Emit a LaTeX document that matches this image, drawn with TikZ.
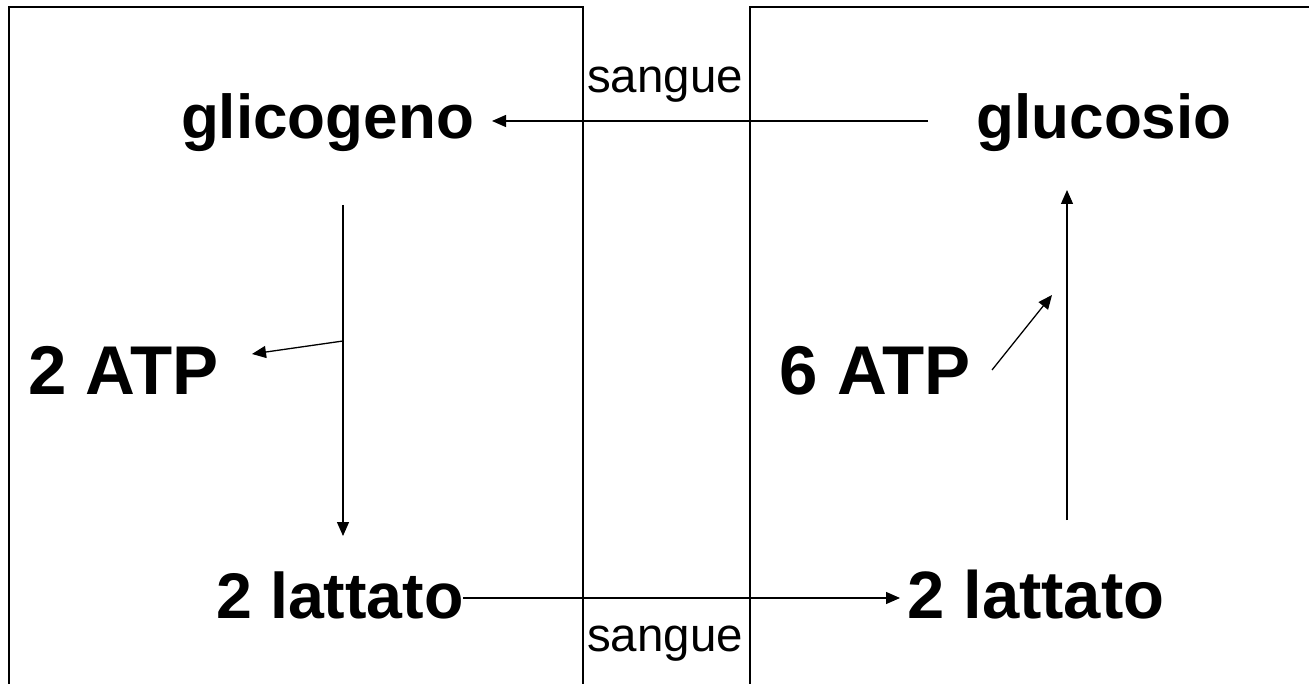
\documentclass[tikz,border=0pt]{standalone}
\usepackage{fontspec}
\setmainfont{Liberation Sans}
\usetikzlibrary{arrows.meta}
\begin{document}
\begin{tikzpicture}[x=1pt,y=-1pt,
  big/.style={font=\bfseries\fontsize{62}{62}\selectfont, inner sep=0pt, anchor=base},
  atp/.style={font=\bfseries\fontsize{69}{69}\selectfont, inner sep=0pt, anchor=base},
  small/.style={font=\fontsize{47.5}{47.5}\selectfont, inner sep=0pt, anchor=base},
  wall/.style={line width=1.8pt},
  flow/.style={line width=1.3pt, -{Triangle[length=14pt,width=12pt]}}]
\useasboundingbox (0,0) rectangle (1309,684);
% compartments
\draw[wall] (9,684) -- (9,7) -- (583,7) -- (583,684);
\draw[wall] (750,684) -- (750,7) -- (1309,7);
% labels
\node[big] (glicogeno) at (327.5,139) {glicogeno};
\node[big] (glucosio) at (1104,139) {glucosio};
\node[atp] (atpL) at (123.5,395) {2 ATP};
\node[atp] (atpR) at (875,395) {6 ATP};
\node[big, font=\bfseries\fontsize{64.5}{64.5}\selectfont] (latL) at (340,618) {2 lattato};
\node[big, font=\bfseries\fontsize{67}{67}\selectfont] (latR) at (1036,618) {2 lattato};
\node[small] (sangueT) at (665,93) {sangue};
\node[small] (sangueB) at (665,651) {sangue};
% connector endpoints
\coordinate (gluOut) at (928,121);
\coordinate (gliIn) at (492,121);
\coordinate (vTop) at (343,205);
\coordinate (vBot) at (343,536);
\coordinate (branchL) at (343,341);
\coordinate (atpLIn) at (252,354);
\coordinate (latLOut) at (463,598);
\coordinate (latRIn) at (900,598);
\coordinate (rBot) at (1067,520);
\coordinate (rTop) at (1067,190);
\coordinate (atpROut) at (992,370);
\coordinate (branchR) at (1052,295);
% arrows
\draw[flow] (gluOut) -- (gliIn);
\draw[flow] (vTop) -- (vBot);
\draw[flow] (branchL) -- (atpLIn);
\draw[flow] (latLOut) -- (latRIn);
\draw[flow] (rBot) -- (rTop);
\draw[flow] (atpROut) -- (branchR);
\end{tikzpicture}
\end{document}
